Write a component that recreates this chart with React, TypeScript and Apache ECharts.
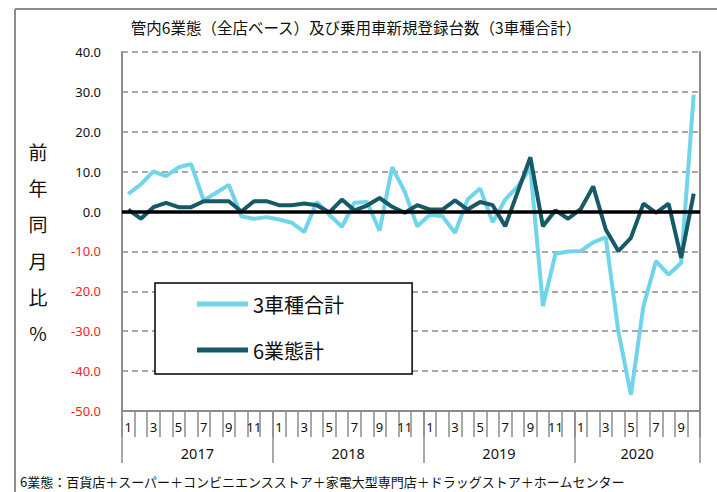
import React, { useEffect, useRef } from "react";
import * as echarts from "echarts";

const yearNames = ["2017", "2018", "2019", "2020"];
const monthsPerYear = [12, 12, 12, 10];

const seriesCarsName = "3車種合計";
const seriesRetailName = "6業態計";

const carsValues = [
  4.4, 6.8, 10.1, 8.9, 11.1, 11.9, 2.8, 4.7, 6.7, -1.2, -1.8, -1.4,
  -2.0, -2.8, -5.1, 2.4, -0.8, -3.8, 2.2, 2.4, -4.8, 11.1, 5.0, -3.7,
  -0.8, -1.2, -5.3, 3.0, 5.8, -2.7, 3.0, 6.3, 11.0, -23.7, -10.6, -10.0,
  -9.9, -7.7, -6.5, -30.0, -45.9, -23.7, -12.4, -15.8, -12.9, 29.3,
];

const retailValues = [
  0.5, -1.8, 1.1, 2.2, 1.1, 1.1, 2.6, 2.6, 2.6, 0.0, 2.6, 2.6,
  1.6, 1.6, 2.0, 1.6, -0.2, 3.0, 0.3, 1.5, 3.4, 1.2, -0.3, 1.6,
  0.5, 0.5, 2.8, 0.5, 2.4, 1.6, -3.7, 5.0, 13.6, -3.7, 0.3, -1.8,
  0.6, 6.3, -4.5, -9.9, -6.6, 2.0, -0.3, 2.0, -11.6, 4.5,
];

const yMin = -50;
const yMax = 40;
const yStep = 10;

const titleText = "管内6業態（全店ベース）及び乗用車新規登録台数（3車種合計）";
const yAxisTitle = "前年同月比%";
const footnoteText =
  "6業態：百貨店＋スーパー＋コンビニエンスストア＋家電大型専門店＋ドラッグストア＋ホームセンター";

const FONT = '"Noto Sans CJK JP", "Noto Sans", sans-serif';
const NUMFONT = '"Noto Sans", "DejaVu Sans", sans-serif';

export default function App() {
  const ref = useRef<HTMLDivElement>(null);

  useEffect(() => {
    document.body.style.margin = "0";
    if (!ref.current) return;
    const chart = echarts.init(ref.current, undefined, { renderer: "svg" });

    const monthLabels: string[] = [];
    monthsPerYear.forEach((n) => {
      for (let m = 1; m <= n; m++) monthLabels.push(String(m));
    });
    const total = monthLabels.length;
    const boundaries: number[] = [0];
    const yearLabelPoints: string[] = new Array(total + 1).fill("");
    let acc = 0;
    monthsPerYear.forEach((n, i) => {
      const center = acc + n / 2;
      yearLabelPoints[center] = yearNames[i];
      acc += n;
      boundaries.push(acc);
    });

    const gray = "#8c8c8c";
    const lineIcon = "path://M0,0 L51,0 L51,5 L0,5 Z";

    chart.setOption({
      animation: false,
      textStyle: { fontFamily: FONT },
      grid: { left: 122, right: 17, top: 52, bottom: 81, containLabel: false },
      legend: {
        data: [
          { name: seriesCarsName, icon: lineIcon },
          { name: seriesRetailName, icon: lineIcon },
        ],
        orient: "vertical",
        left: 155,
        top: 283,
        padding: [11, 68, 14, 42],
        itemGap: 26,
        itemWidth: 51,
        itemHeight: 20,
        backgroundColor: "#ffffff",
        borderColor: "#000000",
        borderWidth: 1.5,
        textStyle: { fontSize: 20, color: "#111", fontFamily: FONT },
      },
      xAxis: [
        {
          type: "category",
          data: monthLabels,
          position: "bottom",
          axisLine: { show: true, onZero: false, lineStyle: { color: gray, width: 2 } },
          axisTick: {
            show: true,
            interval: 0,
            length: 26,
            lineStyle: { color: gray, width: 1.5 },
          },
          axisLabel: {
            interval: 1,
            fontSize: 13,
            color: "#111",
            margin: 9,
            fontFamily: NUMFONT,
          },
          splitLine: { show: false },
        },
        {
          type: "category",
          data: yearLabelPoints,
          boundaryGap: false,
          position: "bottom",
          axisLine: { show: false, onZero: false },
          axisTick: {
            show: true,
            length: 52,
            interval: (index: number) => boundaries.indexOf(index) >= 0,
            lineStyle: { color: gray, width: 1.5 },
          },
          axisLabel: {
            interval: 0,
            fontSize: 14.5,
            color: "#111",
            margin: 34,
            fontFamily: NUMFONT,
          },
          splitLine: { show: false },
        },
      ],
      yAxis: [
        {
          type: "value",
          min: yMin,
          max: yMax,
          interval: yStep,
          axisLine: { show: true, onZero: false, lineStyle: { color: gray, width: 2 } },
          axisTick: { show: false },
          axisLabel: {
            fontSize: 13,
            margin: 21,
            fontFamily: NUMFONT,
            formatter: (v: number) => v.toFixed(1),
            color: (v: any) => (Number(v) < 0 ? "#ff1a1a" : "#111"),
          },
          splitLine: {
            show: true,
            lineStyle: { color: gray, width: 1.5, type: [6, 4] },
          },
        },
        {
          type: "value",
          min: yMin,
          max: yMax,
          interval: yStep,
          position: "right",
          axisLine: { show: true, onZero: false, lineStyle: { color: gray, width: 2 } },
          axisTick: { show: false },
          axisLabel: { show: false },
          splitLine: { show: false },
        },
      ],
      series: [
        {
          name: seriesCarsName,
          type: "line",
          data: carsValues,
          symbol: "none",
          z: 3,
          lineStyle: { color: "#70d4ea", width: 4 },
          itemStyle: { color: "#70d4ea" },
          markLine: {
            silent: true,
            symbol: "none",
            label: { show: false },
            lineStyle: { color: "#000", width: 3.5, type: "solid" },
            data: [{ yAxis: 0 }],
          },
        },
        {
          name: seriesRetailName,
          type: "line",
          data: retailValues,
          symbol: "none",
          z: 4,
          lineStyle: { color: "#155a66", width: 4 },
          itemStyle: { color: "#155a66" },
        },
      ],
      graphic: [
        {
          type: "line",
          shape: { x1: 15, y1: 9, x2: 717, y2: 9 },
          style: { stroke: gray, lineWidth: 2 },
        },
        {
          type: "line",
          shape: { x1: 15, y1: 9, x2: 15, y2: 492 },
          style: { stroke: gray, lineWidth: 2 },
        },
        {
          type: "text",
          x: 356,
          y: 27,
          style: {
            text: titleText,
            fontSize: 15.5,
            fontFamily: FONT,
            fill: "#111",
            align: "center",
            verticalAlign: "middle",
          },
        },
        {
          type: "text",
          x: 38,
          y: 242,
          style: {
            text: yAxisTitle.split("").join("\n"),
            fontSize: 19,
            lineHeight: 36.3,
            fontFamily: FONT,
            fill: "#111",
            align: "center",
            verticalAlign: "middle",
          },
        },
        {
          type: "text",
          x: 20,
          y: 481,
          style: {
            text: footnoteText,
            fontSize: 13,
            fontFamily: FONT,
            fill: "#111",
            align: "left",
            verticalAlign: "middle",
          },
        },
      ],
    });

    return () => chart.dispose();
  }, []);

  return <div ref={ref} style={{ width: 717, height: 492 }} />;
}
